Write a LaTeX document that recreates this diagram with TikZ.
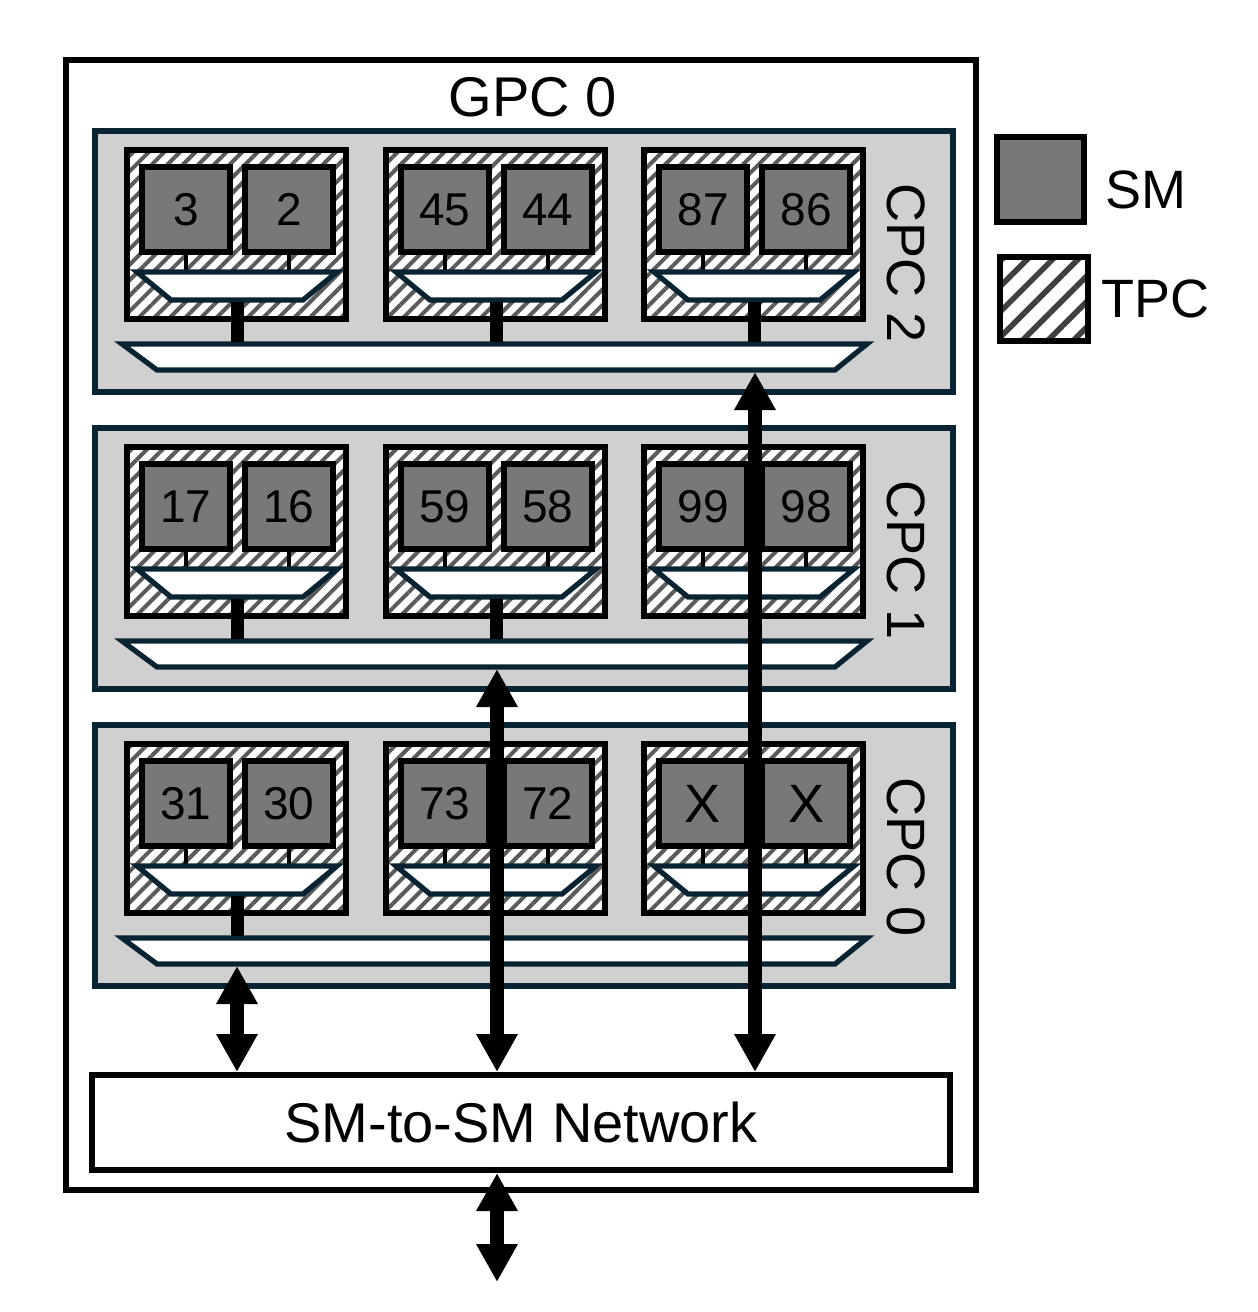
\documentclass[tikz,border=0pt]{standalone}
\usepackage{fontspec}
\setmainfont{Liberation Sans}
\usetikzlibrary{arrows.meta,patterns.meta}
\definecolor{navy}{RGB}{8,36,50}
\definecolor{cpcfill}{RGB}{208,208,208}
\definecolor{smfill}{RGB}{120,120,120}
\definecolor{hatch}{RGB}{90,90,90}
\tikzset{
  gpcbox/.style={draw=black, line width=3pt},
  cpcbox/.style={draw=navy, line width=2.6pt, fill=cpcfill},
  tpcbox/.style={draw=black, line width=3pt, preaction={fill=white},
    pattern={Lines[angle=45,distance=5.5pt,line width=2pt]}, pattern color=hatch},
  legtpc/.style={draw=black, line width=3.2pt, preaction={fill=white},
    pattern={Lines[angle=45,distance=9pt,line width=2.8pt]}, pattern color=hatch!70!black,
    minimum width=44pt, minimum height=42pt, inner sep=0pt},
  smbox/.style={draw=black, line width=3pt, fill=smfill, minimum width=44pt,
    minimum height=42.5pt, inner sep=0pt, font=\fontsize{23}{23}\selectfont},
  xfont/.style={font=\fontsize{27}{27}\selectfont},
  thinstub/.style={draw=black, line width=2pt},
  thickstub/.style={draw=black, line width=6.5pt},
  trap/.style={draw=navy, line width=2.6pt, fill=white},
  bigtext/.style={font=\fontsize{28}{30}\selectfont},
  cpctext/.style={font=\fontsize{27}{29}\selectfont, rotate=-90},
  netbox/.style={draw=black, line width=3pt, fill=white, minimum width=429pt,
    minimum height=47.5pt, inner sep=0pt, font=\fontsize{28}{30}\selectfont},
  bidir/.style={line width=7pt, {Triangle[length=19pt,width=19.5pt]}-{Triangle[length=19pt,width=19.5pt]}}
}
\begin{document}
\begin{tikzpicture}[x=0.5pt,y=-0.5pt]
\useasboundingbox (0,0) rectangle (1258,1312);
\draw[gpcbox] (66,60) rectangle (976,1190);
\node[bigtext] (gpc) at (533,97) {GPC 0};

\foreach \c/\dy/\la/\lb/\lc/\ld/\le/\lf/\st in {2/0/3/2/45/44/87/86/3, 1/297/17/16/59/58/99/98/2, 0/594/31/30/73/72/{}/{}/1}{
  \draw[cpcbox] (95,{131+\dy}) rectangle (953,{392+\dy});
  \node[cpctext] (cpclab\c) at (906,{263+\dy}) {CPC \c};
  \foreach \j/\lx/\sa/\sb in {0/127/\la/\lb, 1/386/\lc/\ld, 2/644/\le/\lf}{
    \draw[tpcbox] (\lx,{150+\dy}) rectangle ({\lx+219},{319+\dy});
    \draw[thinstub] ({\lx+59},{250+\dy}) -- ({\lx+59},{273+\dy});
    \draw[thinstub] ({\lx+162},{250+\dy}) -- ({\lx+162},{273+\dy});
    \node[smbox] (sm\c-\j-a) at ({\lx+59},{209.5+\dy}) {\sa};
    \node[smbox] (sm\c-\j-b) at ({\lx+162},{209.5+\dy}) {\sb};
    \draw[trap] ({\lx+10},{272+\dy}) -- ({\lx+210},{272+\dy}) -- ({\lx+176},{300+\dy}) -- ({\lx+44},{300+\dy}) -- cycle;
  }
  \draw[trap] (122,{344+\dy}) -- (867,{344+\dy}) -- (835,{370+\dy}) -- (157,{370+\dy}) -- cycle;
  \foreach \j/\lx in {0/127, 1/386, 2/644}{
    \ifnum\j<\st
      \draw[thickstub] ({\lx+110},{302+\dy}) -- ({\lx+110},{342+\dy});
    \fi
  }
}
% X labels in CPC 0, third TPC
\node[xfont] (xa) at (sm0-2-a) {X};
\node[xfont] (xb) at (sm0-2-b) {X};

% legend
\node[smbox, minimum width=43.5pt] (legsm) at (1040.5,179.5) {};
\node[bigtext, font=\fontsize{27}{29}\selectfont] (legsmtxt) at (1146,190) {SM};
\node[legtpc] (legtp) at (1044,299) {};
\node[bigtext, font=\fontsize{27}{29}\selectfont] (legtptxt) at (1155,299) {TPC};

% network
\node[netbox] (net) at (521,1122.5) {SM-to-SM Network};
\coordinate (tap0) at (237,966);
\coordinate (tap1) at (497,669);
\coordinate (tap2) at (755,372);
\coordinate (ext) at (497,1282);
\draw[bidir] (tap0) -- (tap0 |- net.north);
\draw[bidir] (tap1) -- (tap1 |- net.north);
\draw[bidir] (tap2) -- (tap2 |- net.north);
\draw[bidir] (net.south -| ext) -- (ext);
\end{tikzpicture}
\end{document}
